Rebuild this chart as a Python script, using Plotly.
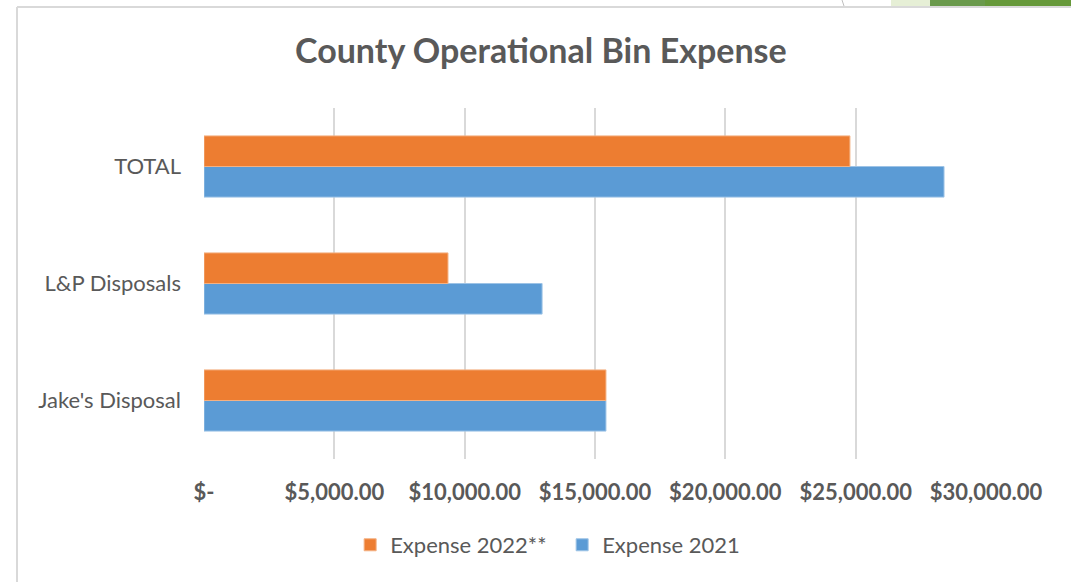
import plotly.graph_objects as go

categories = ["Jake's Disposal", "L&P Disposals", "TOTAL"]
expense_2021 = [15420, 12970, 28390]
expense_2022 = [15420, 9360, 24780]
tick_vals = [0, 5000, 10000, 15000, 20000, 25000, 30000]
tick_text = ["$-", "$5,000.00", "$10,000.00", "$15,000.00", "$20,000.00", "$25,000.00", "$30,000.00"]

FONT = "Lato"
GRAY = "#595959"

fig = go.Figure()
fig.add_trace(go.Bar(
    y=categories, x=expense_2021, orientation="h", name="Expense 2021",
    marker=dict(color="#5B9BD5", line=dict(color="#9DC3E6", width=1)),
))
fig.add_trace(go.Bar(
    y=categories, x=expense_2022, orientation="h", name="Expense 2022**",
    marker=dict(color="#ED7D31", line=dict(color="#F4B183", width=1)),
))

fig.update_layout(
    width=1071, height=582,
    margin=dict(l=204, r=85, t=108, b=123),
    paper_bgcolor="white", plot_bgcolor="white",
    barmode="group", bargap=0.477, bargroupgap=0,
    title=dict(text="<b>County Operational Bin Expense</b>", x=0.505, xanchor="center",
               y=0.912, yanchor="middle",
               font=dict(family=FONT, size=34, color=GRAY)),
    xaxis=dict(range=[0, 30000], tickvals=tick_vals, ticktext=tick_text,
               showgrid=True, gridcolor="#d9d9d9", gridwidth=2,
               zeroline=False, showline=False, ticks="",
               ticklabelstandoff=18,
               tickfont=dict(family=FONT, size=22, color=GRAY, weight="bold")),
    yaxis=dict(showgrid=False, zeroline=False, showline=False, ticks="",
               ticklabelstandoff=22,
               tickfont=dict(family=FONT, size=22, color=GRAY)),
    legend=dict(orientation="h", x=0.458, xanchor="center", y=-0.245, yanchor="middle",
                traceorder="reversed", font=dict(family=FONT, size=22, color=GRAY),
                itemwidth=30, entrywidth=167, entrywidthmode="pixels"),
    showlegend=True,
)

def px_x(p):
    return (p - 204) / 782

def px_y(p):
    return (459 - p) / 351

# chart frame (cropped at right and bottom)
fig.add_shape(type="line", xref="paper", yref="paper",
              x0=px_x(17), x1=px_x(1071), y0=px_y(7), y1=px_y(7),
              line=dict(color="#d9d9d9", width=2))
fig.add_shape(type="line", xref="paper", yref="paper",
              x0=px_x(17), x1=px_x(17), y0=px_y(7), y1=px_y(582),
              line=dict(color="#d9d9d9", width=2))
# decoration peeking above the frame at top right
fig.add_shape(type="line", xref="paper", yref="paper",
              x0=px_x(842), x1=px_x(844), y0=px_y(0), y1=px_y(6),
              line=dict(color="#bfbfbf", width=1))
fig.add_shape(type="rect", xref="paper", yref="paper", layer="below",
              x0=px_x(891), x1=px_x(932), y0=px_y(6), y1=px_y(0),
              line=dict(width=0), fillcolor="#e6efd6")
fig.add_shape(type="rect", xref="paper", yref="paper", layer="below",
              x0=px_x(930), x1=px_x(985), y0=px_y(6), y1=px_y(0),
              line=dict(width=0), fillcolor="#6a9a4c")
fig.add_shape(type="rect", xref="paper", yref="paper", layer="below",
              x0=px_x(985), x1=px_x(1071), y0=px_y(6), y1=px_y(0),
              line=dict(width=0), fillcolor="#66993a")

fig.write_html("out.html")
